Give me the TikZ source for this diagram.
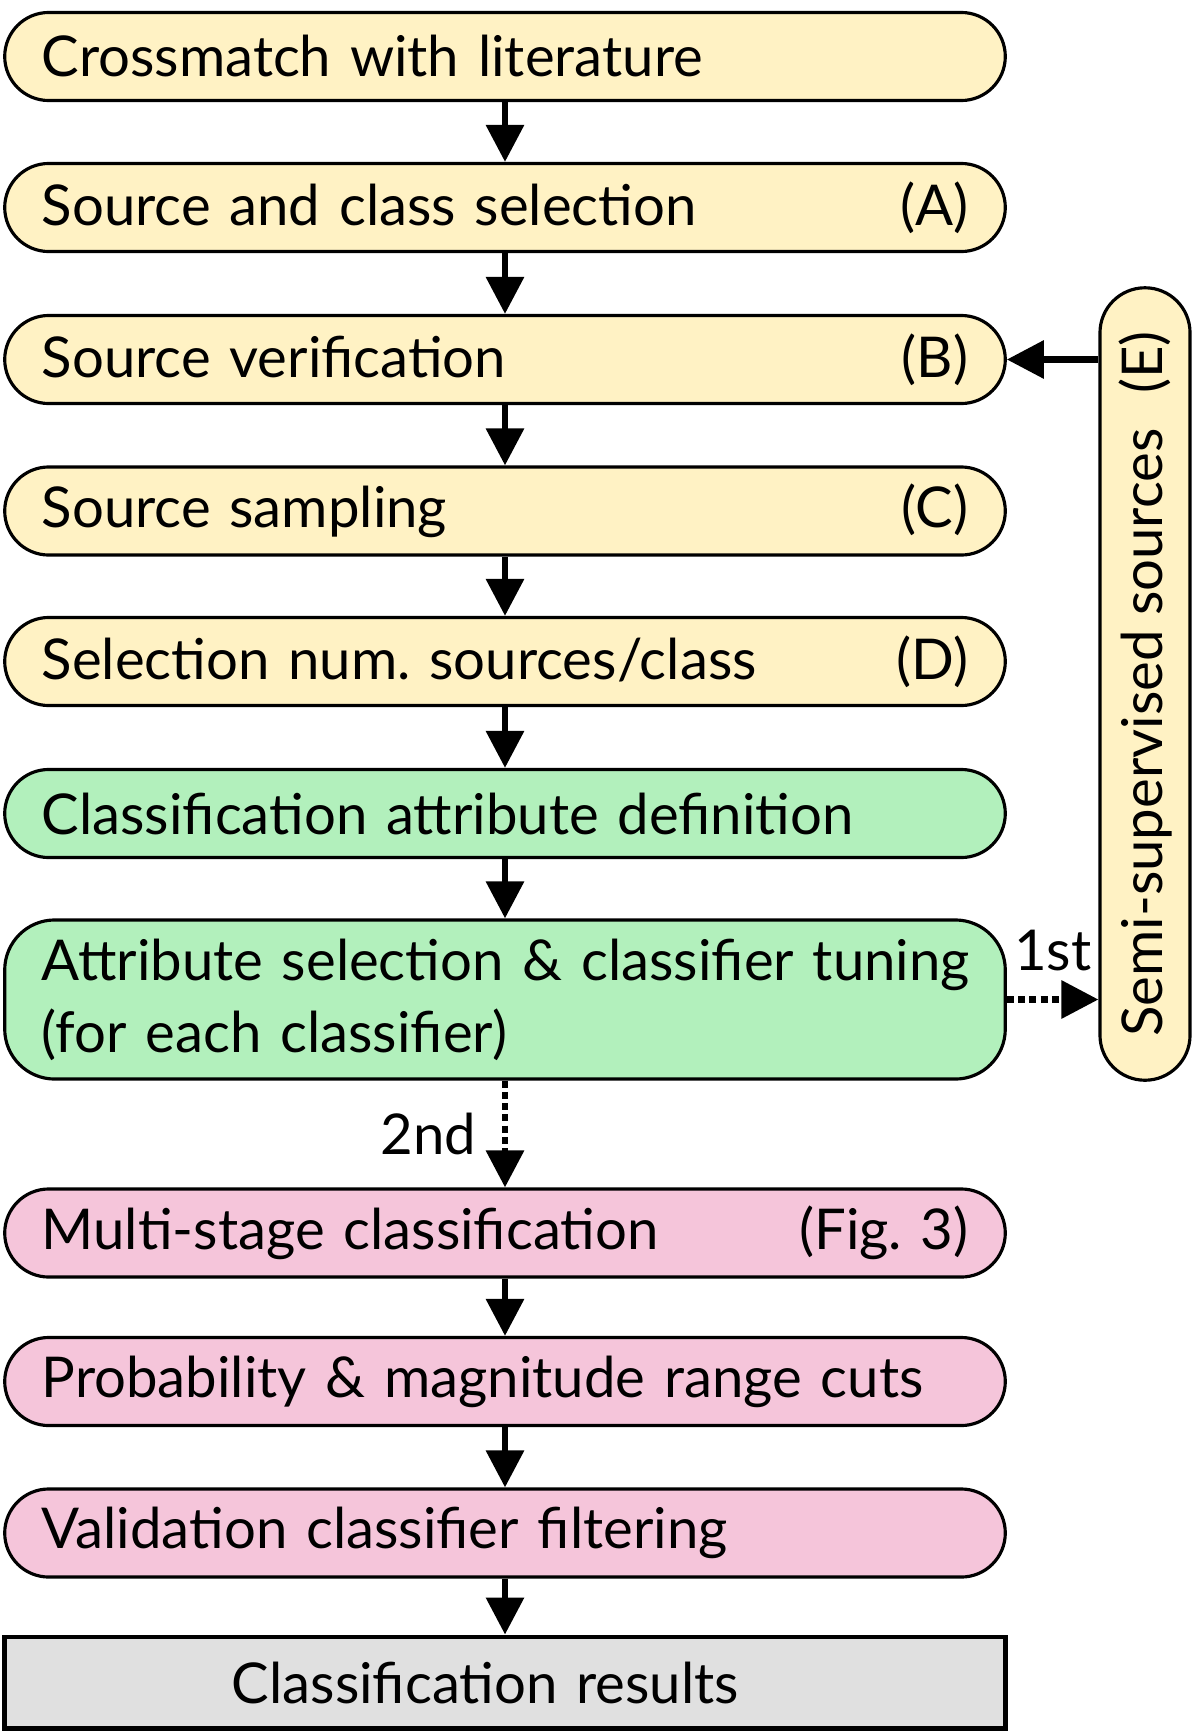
\documentclass[tikz,border=0pt]{standalone}
\usepackage{fontspec}
\setmainfont{Lato}
\usetikzlibrary{arrows.meta, positioning, calc}

\definecolor{stepyellow}{RGB}{255,242,196}
\definecolor{stepgreen}{RGB}{178,240,188}
\definecolor{steppink}{RGB}{245,197,218}
\definecolor{resultgray}{RGB}{224,224,224}

\tikzset{
  stepbox/.style={draw, line width=0.9pt, rounded corners=0.44cm,
    minimum width=10cm, minimum height=0.88cm, text width=9.26cm,
    align=left, inner xsep=0.37cm},
  sidebox/.style={draw, fill=stepyellow, line width=0.9pt, rounded corners=0.45cm,
    minimum width=7.92cm, minimum height=0.9cm, inner sep=0pt},
  flow/.style={line width=1.8pt, -{Triangle[length=10.5pt,width=10.5pt]}},
  dotflow/.style={flow, dash pattern=on 2pt off 1.2pt},
}

\begin{document}
\begin{tikzpicture}[x=0.01cm, y=-0.01cm, font=\fontsize{16}{20.5}\selectfont]
    \useasboundingbox (0,0) rectangle (1200,1736);

    % 数据准备
    \node[stepbox, fill=stepyellow] (cross) at (505,56.5) {Crossmatch with literature};
    \node[stepbox, fill=stepyellow] (select) at (505,207.5) {Source and class selection\hfill(A)};
    \node[stepbox, fill=stepyellow] (verify) at (505,359.5) {Source verification\hfill(B)};
    \node[stepbox, fill=stepyellow] (sample) at (505,511) {Source sampling\hfill(C)};
    \node[stepbox, fill=stepyellow] (numsrc) at (505,661.5) {Selection num.\ sources/class\hfill(D)};

    % 属性与分类器
    \node[stepbox, fill=stepgreen] (attdef) at (505,813.5) {Classification attribute definition};
    \node[stepbox, fill=stepgreen, minimum height=1.59cm, rounded corners=0.5cm] (tune) at (505,999.5)
      {\mbox{Attribute selection \& classifier tuning}\\(for each classifier)};

    % 分类与筛选
    \node[stepbox, fill=steppink] (multi) at (505,1233) {Multi-stage classification\hfill(Fig.~3)};
    \node[stepbox, fill=steppink] (prob) at (505,1381.5) {Probability \& magnitude range cuts};
    \node[stepbox, fill=steppink] (valid) at (505,1533) {Validation classifier filtering};
    \node[draw, line width=1.4pt, fill=resultgray, minimum width=10cm, minimum height=0.91cm,
      text width=5.46cm, align=left, inner xsep=2.27cm] (result) at (505,1682.5) {Classification results};

    % 半监督
    \node[sidebox, rotate=90] (semi) at (1145,684) {Semi-supervised sources\hspace{0.35cm}(E)};

    % 连线
    \foreach \a/\b in {cross/select, select/verify, verify/sample, sample/numsrc, numsrc/attdef,
                       attdef/tune, multi/prob, prob/valid, valid/result}
      \draw[flow] (\a) -- (\b);
    \draw[dotflow] (tune) -- (multi) node[midway,left=4pt] {2nd};
    \draw[dotflow] (tune.east) -- (tune.east -| semi.north) node[midway,above=4pt] {1st};
    \draw[flow] (semi.north |- verify.east) -- (verify.east);
  \end{tikzpicture}
\end{document}
